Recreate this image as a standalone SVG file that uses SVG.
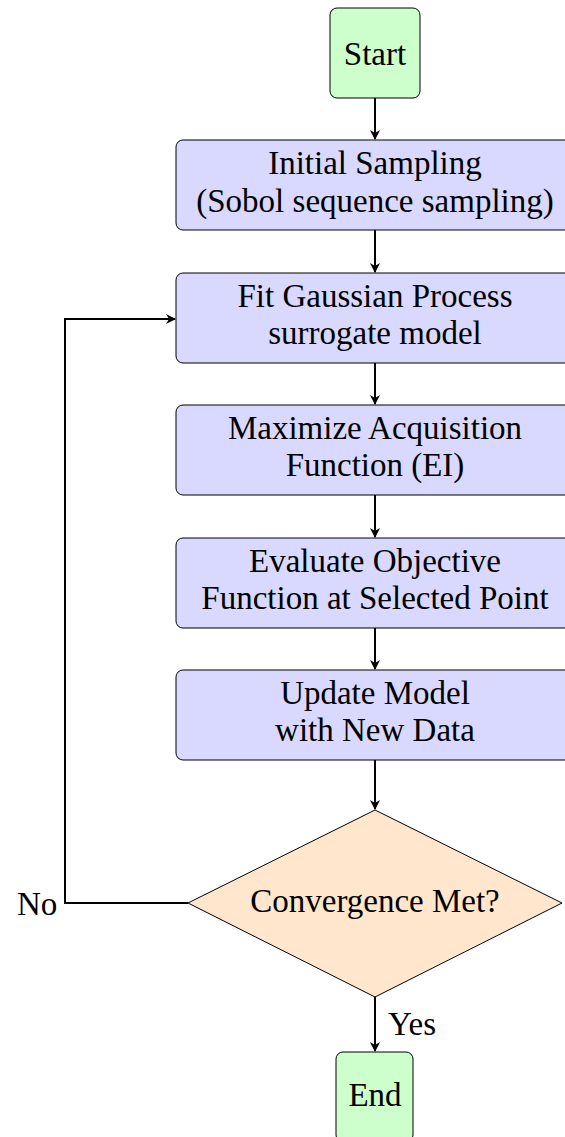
<svg xmlns="http://www.w3.org/2000/svg" width="565" height="1137" viewBox="0 0 565 1137">
<defs>
<style>
.t{font-family:"Liberation Serif","DejaVu Serif",serif;font-size:33px;fill:#000;text-anchor:middle}
.s{text-anchor:start}
.box{fill:#d9d9ff;stroke:#000;stroke-width:1}
.term{fill:#ccffcc;stroke:#000;stroke-width:1}
.dec{fill:#ffe6cc;stroke:#000;stroke-width:1}
.c{fill:none;stroke:#000;stroke-width:2}
</style>
<marker id="ah" viewBox="0 0 10 10" refX="9" refY="5" markerWidth="5" markerHeight="5" markerUnits="strokeWidth" orient="auto">
<path d="M0,0 L10,5 L0,10 L3,5 Z" fill="#000"/>
</marker>
</defs>
<g id="connectors">
<line class="c" x1="375" y1="98" x2="375" y2="139" marker-end="url(#ah)"/>
<line class="c" x1="375" y1="230" x2="375" y2="272" marker-end="url(#ah)"/>
<line class="c" x1="375" y1="363" x2="375" y2="404" marker-end="url(#ah)"/>
<line class="c" x1="375" y1="495" x2="375" y2="537" marker-end="url(#ah)"/>
<line class="c" x1="375" y1="628" x2="375" y2="669" marker-end="url(#ah)"/>
<line class="c" x1="375" y1="760" x2="375" y2="809" marker-end="url(#ah)"/>
<line class="c" x1="375" y1="997" x2="375" y2="1051" marker-end="url(#ah)"/>
<polyline class="c" points="188,903 65,903 65,319 175,319" marker-end="url(#ah)"/>
<text class="t s" x="17" y="915">No</text>
<text class="t s" x="388" y="1035">Yes</text>
</g>
<g id="start"><rect class="term" x="330" y="8" width="90" height="90" rx="7"/><text class="t" x="375" y="64.5">Start</text></g>
<g id="initial"><rect class="box" x="176" y="140" width="398" height="90" rx="7"/><text class="t" x="375" y="174">Initial Sampling</text><text class="t" x="375" y="212">(Sobol sequence sampling)</text></g>
<g id="fit"><rect class="box" x="176" y="273" width="398" height="90" rx="7"/><text class="t" x="375" y="307">Fit Gaussian Process</text><text class="t" x="375" y="344">surrogate model</text></g>
<g id="maximize"><rect class="box" x="176" y="405" width="398" height="90" rx="7"/><text class="t" x="375" y="439">Maximize Acquisition</text><text class="t" x="375" y="476">Function (EI)</text></g>
<g id="evaluate"><rect class="box" x="176" y="538" width="398" height="90" rx="7"/><text class="t" x="375" y="572">Evaluate Objective</text><text class="t" x="375" y="609">Function at Selected Point</text></g>
<g id="update"><rect class="box" x="176" y="670" width="398" height="90" rx="7"/><text class="t" x="375" y="704">Update Model</text><text class="t" x="375" y="741">with New Data</text></g>
<g id="convergence"><polygon class="dec" points="375,810 562,903 375,997 188,903"/><text class="t" x="375" y="912">Convergence Met?</text></g>
<g id="end"><rect class="term" x="336" y="1052" width="77" height="90" rx="7"/><text class="t" x="375" y="1106">End</text></g>
</svg>
